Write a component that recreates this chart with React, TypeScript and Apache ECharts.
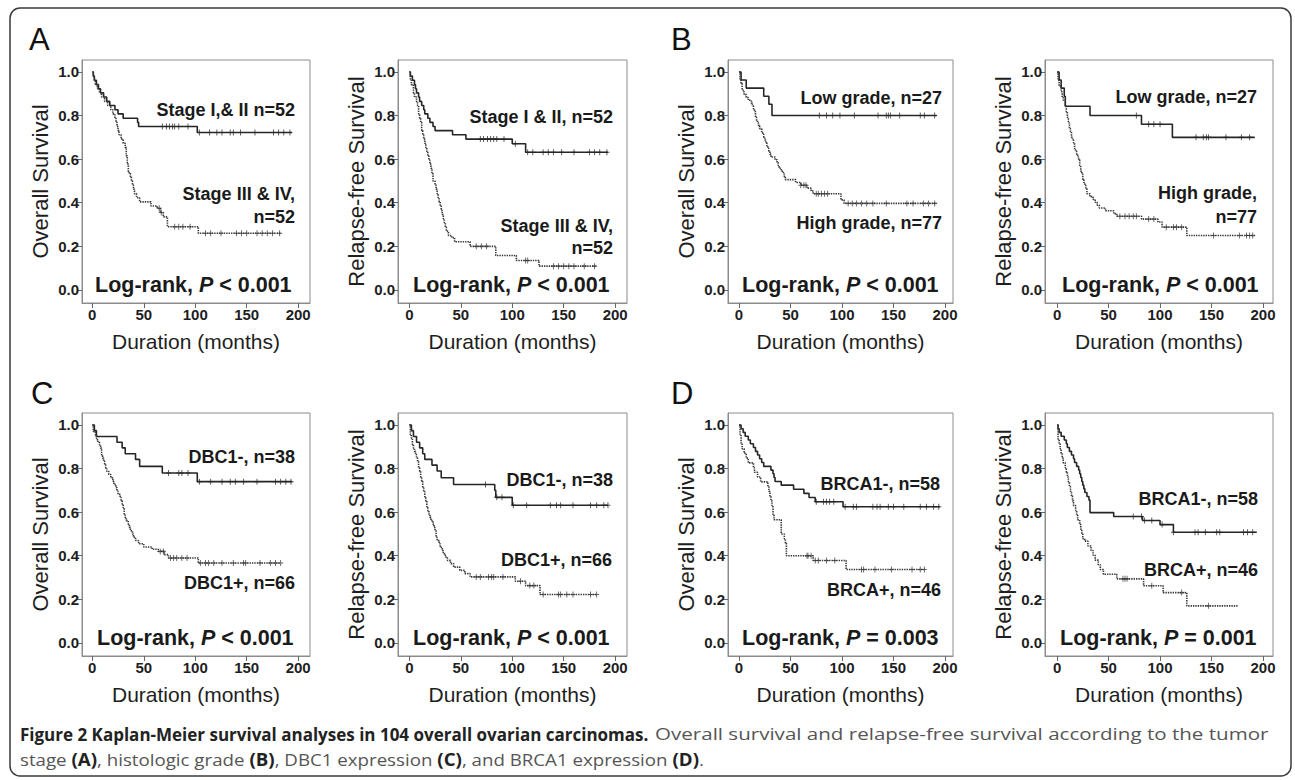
import React, { useEffect, useRef } from "react";
import * as echarts from "echarts";

// ---------- tick labels ----------
const X_TICKS = [0, 50, 100, 150, 200];
const Y_TICKS = [0, 0.2, 0.4, 0.6, 0.8, 1.0];

// ---------- Panel A: tumor stage ----------
const A_OS_STAGE12 = [[0,1],[1,0.981],[2,0.962],[4,0.942],[6,0.923],[8,0.904],[11,0.885],[14,0.865],[17,0.846],[22,0.827],[25,0.808],[30,0.788],[44,0.769],[45,0.75],[102,0.722],[194,0.722]];
const A_OS_STAGE12_CENS = [68,72,75,78,80,84,93,104,114,121,126,134,137,144,158,176,181,186,192];
const A_OS_STAGE34 = [[0,1],[1,0.981],[2,0.962],[3,0.942],[5,0.923],[7,0.904],[9,0.885],[12,0.865],[15,0.846],[18,0.827],[20,0.808],[22,0.788],[23,0.769],[24,0.75],[25,0.731],[26,0.712],[28,0.692],[30,0.673],[32,0.654],[33,0.615],[34,0.577],[35,0.538],[37,0.519],[38,0.5],[39,0.481],[40,0.462],[41,0.442],[43,0.423],[46,0.404],[57,0.385],[63,0.375],[66,0.355],[69,0.335],[73,0.29],[103,0.26],[183,0.26]];
const A_OS_STAGE34_CENS = [65,67,80,84,88,95,110,115,125,140,145,150,160,165,170,175,182];

const A_RFS_STAGE12 = [[0,1],[1,0.981],[3,0.962],[5,0.942],[6,0.923],[7,0.904],[9,0.885],[10,0.865],[12,0.846],[14,0.827],[15,0.808],[18,0.788],[20,0.769],[23,0.75],[25,0.731],[42,0.712],[55,0.692],[100,0.671],[113,0.632],[193,0.632]];
const A_RFS_STAGE12_CENS = [69,72,76,79,82,85,92,103,115,120,130,135,140,148,160,175,180,185,192];
const A_RFS_STAGE34 = [[0,1],[1,0.962],[2,0.942],[4,0.904],[5,0.885],[7,0.865],[8,0.846],[9,0.808],[10,0.788],[11,0.769],[12,0.731],[13,0.712],[14,0.692],[15,0.673],[16,0.654],[17,0.635],[18,0.615],[19,0.596],[20,0.577],[21,0.558],[22,0.538],[23,0.5],[25,0.481],[26,0.462],[27,0.442],[28,0.423],[29,0.404],[30,0.385],[31,0.365],[32,0.346],[33,0.327],[34,0.308],[35,0.288],[36,0.269],[38,0.25],[41,0.24],[44,0.221],[59,0.2],[84,0.158],[104,0.135],[126,0.109],[182,0.109]];
const A_RFS_STAGE34_CENS = [65,70,75,113,115,140,145,150,155,160,170,180];

// ---------- Panel B: histologic grade ----------
const B_OS_LOW = [[0,1],[2,0.963],[7,0.926],[24,0.889],[29,0.852],[32,0.8],[192,0.8]];
const B_OS_LOW_CENS = [78,85,91,98,112,135,143,145,147,156,176,180,190];
const B_OS_HIGH = [[0,1],[1,0.961],[2,0.948],[3,0.922],[4,0.909],[5,0.896],[7,0.883],[9,0.87],[12,0.857],[13,0.844],[14,0.831],[15,0.818],[16,0.792],[17,0.779],[18,0.766],[19,0.753],[20,0.74],[22,0.727],[23,0.714],[24,0.701],[25,0.688],[26,0.675],[27,0.662],[28,0.649],[29,0.636],[30,0.623],[31,0.61],[35,0.597],[37,0.584],[38,0.571],[39,0.558],[41,0.545],[43,0.532],[44,0.519],[45,0.506],[55,0.493],[60,0.48],[66,0.467],[70,0.454],[72,0.441],[99,0.413],[102,0.397],[192,0.397]];
const B_OS_HIGH_CENS = [60,63,65,75,77,80,83,86,106,110,114,119,124,130,143,163,169,179,184,190];

const B_RFS_LOW = [[0,1],[2,0.963],[4,0.926],[7,0.889],[8,0.843],[32,0.8],[82,0.76],[112,0.7],[192,0.7]];
const B_RFS_LOW_CENS = [77,89,94,100,135,142,145,147,164,179,187];
const B_RFS_HIGH = [[0,1],[1,0.961],[2,0.935],[4,0.909],[5,0.883],[6,0.87],[8,0.844],[9,0.818],[10,0.792],[11,0.766],[12,0.74],[13,0.727],[14,0.701],[15,0.688],[16,0.675],[17,0.649],[18,0.636],[19,0.623],[20,0.61],[21,0.597],[22,0.571],[23,0.545],[24,0.532],[25,0.506],[26,0.493],[27,0.48],[28,0.467],[29,0.441],[32,0.428],[35,0.415],[37,0.402],[39,0.389],[41,0.376],[47,0.363],[55,0.35],[58,0.338],[82,0.325],[98,0.312],[102,0.288],[126,0.25],[192,0.25]];
const B_RFS_HIGH_CENS = [61,66,70,74,77,89,94,106,113,116,121,152,177,184,187,190];

// ---------- Panel C: DBC1 expression ----------
const C_OS_NEG = [[0,1],[2,0.974],[4,0.947],[24,0.921],[29,0.895],[32,0.868],[42,0.842],[46,0.81],[68,0.78],[102,0.74],[194,0.74]];
const C_OS_NEG_CENS = [74,84,87,93,104,115,126,134,139,147,160,178,183,188,193];
const C_OS_POS = [[0,1],[1,0.97],[3,0.955],[4,0.939],[5,0.924],[7,0.909],[8,0.894],[9,0.864],[10,0.848],[11,0.833],[12,0.818],[13,0.803],[14,0.788],[16,0.773],[18,0.758],[20,0.742],[21,0.727],[23,0.712],[24,0.697],[25,0.682],[27,0.667],[28,0.652],[29,0.636],[30,0.621],[31,0.591],[32,0.576],[33,0.561],[35,0.545],[36,0.53],[37,0.515],[39,0.5],[40,0.485],[42,0.47],[45,0.455],[50,0.44],[58,0.43],[64,0.42],[70,0.405],[74,0.39],[103,0.367],[183,0.367]];
const C_OS_POS_CENS = [66,69,76,79,82,87,92,105,110,113,118,126,137,147,149,163,173,178,183];

const C_RFS_NEG = [[0,1],[2,0.974],[4,0.947],[7,0.921],[10,0.895],[13,0.868],[15,0.842],[22,0.816],[27,0.789],[31,0.758],[43,0.727],[83,0.7],[84,0.668],[100,0.632],[193,0.632]];
const C_RFS_NEG_CENS = [74,85,90,101,114,137,143,147,159,176,182,189,193];
const C_RFS_POS = [[0,1],[1,0.955],[2,0.939],[3,0.909],[4,0.894],[5,0.879],[6,0.864],[7,0.848],[8,0.833],[9,0.803],[10,0.788],[11,0.758],[12,0.742],[13,0.712],[14,0.697],[15,0.667],[16,0.652],[17,0.621],[18,0.606],[19,0.591],[20,0.576],[21,0.561],[23,0.545],[24,0.53],[25,0.515],[26,0.485],[27,0.47],[29,0.455],[30,0.439],[32,0.424],[33,0.409],[35,0.394],[37,0.379],[40,0.364],[43,0.348],[49,0.333],[54,0.318],[59,0.303],[103,0.283],[113,0.263],[127,0.222],[182,0.222]];
const C_RFS_POS_CENS = [65,69,77,80,82,91,108,117,121,130,145,147,153,159,176,182];

// ---------- Panel D: BRCA1 expression ----------
const D_OS_NEG = [[0,1],[2,0.983],[4,0.966],[6,0.948],[9,0.931],[11,0.914],[14,0.897],[16,0.879],[18,0.862],[20,0.845],[22,0.828],[24,0.81],[31,0.793],[33,0.776],[34,0.759],[35,0.741],[41,0.724],[53,0.705],[63,0.686],[68,0.667],[74,0.648],[101,0.625],[195,0.625]];
const D_OS_NEG_CENS = [75,82,85,88,92,103,111,114,130,134,137,145,150,160,176,182,189,194];
const D_OS_POS = [[0,1],[1,0.957],[2,0.913],[3,0.891],[5,0.87],[7,0.848],[9,0.826],[14,0.804],[15,0.783],[18,0.761],[21,0.739],[28,0.717],[29,0.696],[30,0.674],[31,0.652],[32,0.63],[33,0.587],[34,0.565],[41,0.5],[44,0.478],[45,0.457],[46,0.4],[72,0.378],[104,0.337],[180,0.337]];
const D_OS_POS_CENS = [66,67,70,74,77,85,93,119,121,132,148,168,176,180];

const D_RFS_NEG = [[0,1],[1,0.983],[2,0.966],[4,0.948],[7,0.931],[9,0.914],[10,0.897],[12,0.879],[14,0.862],[16,0.845],[17,0.828],[19,0.81],[21,0.793],[22,0.776],[23,0.759],[24,0.741],[25,0.724],[26,0.707],[27,0.69],[29,0.672],[31,0.655],[32,0.598],[55,0.58],[83,0.562],[100,0.543],[113,0.508],[194,0.508]];
const D_RFS_NEG_CENS = [74,82,85,92,102,113,134,137,144,155,158,181,185,190];
const D_RFS_POS = [[0,1],[1,0.935],[2,0.913],[3,0.891],[4,0.87],[5,0.848],[6,0.826],[8,0.804],[9,0.783],[10,0.761],[11,0.739],[12,0.717],[13,0.696],[14,0.674],[15,0.652],[16,0.63],[18,0.609],[19,0.587],[20,0.565],[22,0.543],[23,0.522],[24,0.5],[25,0.478],[27,0.467],[30,0.445],[33,0.424],[35,0.402],[37,0.38],[40,0.359],[42,0.337],[45,0.315],[58,0.294],[84,0.262],[103,0.231],[126,0.17],[176,0.17]];
const D_RFS_POS_CENS = [64,66,68,92,121,147];

// ---------- styles ----------
const FONT = "'Liberation Sans', Arial, Helvetica, sans-serif";
const CAP_FONT = "'Open Sans', 'Noto Sans', sans-serif";
const INK = "#1a1a1a";
const BOX = "#8c8c8c";
const SOLID = "#262626";
const DOT = "#383838";

type Pt = number[];
interface Curve { steps: Pt[]; cens: number[]; dotted: boolean }
interface Label { text: string; x: number; y: number; align: string }
interface Panel {
  left: number; top: number; width: number; height: number;
  xMin: number; xMax: number; yName: string;
  curves: Curve[]; labels: Label[]; logrank: { text: string; x: number; y: number };
}

function survivalAt(steps: Pt[], t: number): number {
  let s = steps[0][1];
  for (const p of steps) { if (p[0] <= t) s = p[1]; }
  return s;
}

const ROW1 = 60, ROW2 = 413, H = 243;
const OS = "Overall Survival", RFS = "Relapse-free Survival";
const LR_LT = "{a|Log-rank, }{i|P}{a| < 0.001}";

const PANELS: Panel[] = [
  { left: 82, top: ROW1, width: 228, height: H, xMin: -10, xMax: 211.5, yName: OS,
    curves: [{ steps: A_OS_STAGE12, cens: A_OS_STAGE12_CENS, dotted: false }, { steps: A_OS_STAGE34, cens: A_OS_STAGE34_CENS, dotted: true }],
    labels: [{ text: "Stage I,& II n=52", x: 295, y: 110, align: "right" }, { text: "Stage III & IV,", x: 295, y: 194, align: "right" }, { text: "n=52", x: 295, y: 217, align: "right" }],
    logrank: { text: LR_LT, x: 95, y: 285 } },
  { left: 398, top: ROW1, width: 229, height: H, xMin: -11, xMax: 211.5, yName: RFS,
    curves: [{ steps: A_RFS_STAGE12, cens: A_RFS_STAGE12_CENS, dotted: false }, { steps: A_RFS_STAGE34, cens: A_RFS_STAGE34_CENS, dotted: true }],
    labels: [{ text: "Stage I & II, n=52", x: 613, y: 117, align: "right" }, { text: "Stage III & IV,", x: 613, y: 226, align: "right" }, { text: "n=52", x: 613, y: 248, align: "right" }],
    logrank: { text: LR_LT, x: 413, y: 285 } },
  { left: 728, top: ROW1, width: 225, height: H, xMin: -10.7, xMax: 207.8, yName: OS,
    curves: [{ steps: B_OS_LOW, cens: B_OS_LOW_CENS, dotted: false }, { steps: B_OS_HIGH, cens: B_OS_HIGH_CENS, dotted: true }],
    labels: [{ text: "Low grade, n=27", x: 942, y: 98, align: "right" }, { text: "High grade, n=77", x: 942, y: 223, align: "right" }],
    logrank: { text: LR_LT, x: 742, y: 285 } },
  { left: 1045, top: ROW1, width: 228, height: H, xMin: -11.7, xMax: 209.7, yName: RFS,
    curves: [{ steps: B_RFS_LOW, cens: B_RFS_LOW_CENS, dotted: false }, { steps: B_RFS_HIGH, cens: B_RFS_HIGH_CENS, dotted: true }],
    labels: [{ text: "Low grade, n=27", x: 1257, y: 97, align: "right" }, { text: "High grade,", x: 1257, y: 193, align: "right" }, { text: "n=77", x: 1257, y: 217, align: "right" }],
    logrank: { text: LR_LT, x: 1062, y: 285 } },
  { left: 82, top: ROW2, width: 228, height: H, xMin: -10, xMax: 211.5, yName: OS,
    curves: [{ steps: C_OS_NEG, cens: C_OS_NEG_CENS, dotted: false }, { steps: C_OS_POS, cens: C_OS_POS_CENS, dotted: true }],
    labels: [{ text: "DBC1-, n=38", x: 295, y: 457, align: "right" }, { text: "DBC1+, n=66", x: 295, y: 583, align: "right" }],
    logrank: { text: LR_LT, x: 97, y: 638 } },
  { left: 398, top: ROW2, width: 229, height: H, xMin: -11, xMax: 211.5, yName: RFS,
    curves: [{ steps: C_RFS_NEG, cens: C_RFS_NEG_CENS, dotted: false }, { steps: C_RFS_POS, cens: C_RFS_POS_CENS, dotted: true }],
    labels: [{ text: "DBC1-, n=38", x: 613, y: 480, align: "right" }, { text: "DBC1+, n=66", x: 612, y: 560, align: "right" }],
    logrank: { text: LR_LT, x: 413, y: 638 } },
  { left: 728, top: ROW2, width: 225, height: H, xMin: -10.7, xMax: 207.8, yName: OS,
    curves: [{ steps: D_OS_NEG, cens: D_OS_NEG_CENS, dotted: false }, { steps: D_OS_POS, cens: D_OS_POS_CENS, dotted: true }],
    labels: [{ text: "BRCA1-, n=58", x: 940, y: 484, align: "right" }, { text: "BRCA+, n=46", x: 941, y: 590, align: "right" }],
    logrank: { text: "{a|Log-rank, }{i|P}{a| = 0.003}", x: 742, y: 638 } },
  { left: 1045, top: ROW2, width: 228, height: H, xMin: -11.7, xMax: 209.7, yName: RFS,
    curves: [{ steps: D_RFS_NEG, cens: D_RFS_NEG_CENS, dotted: false }, { steps: D_RFS_POS, cens: D_RFS_POS_CENS, dotted: true }],
    labels: [{ text: "BRCA1-, n=58", x: 1258, y: 499, align: "right" }, { text: "BRCA+, n=46", x: 1258, y: 570, align: "right" }],
    logrank: { text: "{a|Log-rank, }{i|P}{a| = 0.001}", x: 1060, y: 638 } },
];

const PANEL_LETTERS = [
  { text: "A", x: 29, y: 39 }, { text: "B", x: 671, y: 39 },
  { text: "C", x: 31, y: 393 }, { text: "D", x: 671, y: 393 },
];

const CAPTION_BOLD = "Figure 2 Kaplan-Meier survival analyses in 104 overall ovarian carcinomas.";
const CAPTION_L1 = "Overall survival and relapse-free survival according to the tumor";
const CAPTION_L2 = "{r|stage }{b|(A)}{r|, histologic grade }{b|(B)}{r|, DBC1 expression }{b|(C)}{r|, and BRCA1 expression }{b|(D)}{r|.}";

function txt(text: string, x: number, y: number, size: number, weight: string, align: string, extra: any = {}, elExtra: any = {}) {
  return {
    type: "text", x, y, silent: true, ...elExtra,
    style: {
      text, fontSize: size, fontWeight: weight, fontFamily: FONT, fill: INK,
      textAlign: align, align, textVerticalAlign: "middle", verticalAlign: "middle", ...extra,
    },
  };
}

function buildOption(): any {
  const grid: any[] = [], xAxis: any[] = [], yAxis: any[] = [], series: any[] = [], graphic: any[] = [];

  PANELS.forEach((p, i) => {
    grid.push({ left: p.left, top: p.top, width: p.width, height: p.height, show: true, borderColor: BOX, borderWidth: 1, containLabel: false });
    xAxis.push({
      type: "value", gridIndex: i, min: p.xMin, max: p.xMax,
      axisLine: { show: true, onZero: false, lineStyle: { color: BOX, width: 1 } },
      axisTick: { show: true, length: 5, customValues: X_TICKS, lineStyle: { color: "#666" } },
      axisLabel: { customValues: X_TICKS, margin: 4, fontSize: 15, fontWeight: "bold", color: "#1e1e1e", fontFamily: FONT, formatter: (v: number) => String(v) },
      splitLine: { show: false },
      name: "Duration (months)", nameLocation: "middle", nameGap: 28,
      nameTextStyle: { fontSize: 21, color: "#1e1e1e", fontFamily: FONT },
    });
    yAxis.push({
      type: "value", gridIndex: i, min: -0.06, max: 1.055,
      axisLine: { show: true, onZero: false, lineStyle: { color: BOX, width: 1 } },
      axisTick: { show: true, length: 5, customValues: Y_TICKS, lineStyle: { color: "#666" } },
      axisLabel: { customValues: Y_TICKS, margin: 3, fontSize: 15, fontWeight: "bold", color: "#1e1e1e", fontFamily: FONT, formatter: (v: number) => v.toFixed(1) },
      splitLine: { show: false },
      name: p.yName, nameLocation: "middle", nameRotate: 90, nameGap: 31,
      nameTextStyle: { fontSize: 22, color: "#1e1e1e", fontFamily: FONT },
    });
    p.curves.forEach((c) => {
      series.push({
        type: "line", xAxisIndex: i, yAxisIndex: i, data: c.steps, step: "end",
        symbol: "none", silent: true, z: 2,
        lineStyle: c.dotted ? { color: DOT, width: 1.6, type: [1.4, 1.0] } : { color: SOLID, width: 1.6, type: "solid" },
      });
      series.push({
        type: "scatter", xAxisIndex: i, yAxisIndex: i, silent: true, z: 3,
        data: c.cens.map((t) => [t, survivalAt(c.steps, t)]),
        symbol: "path://M5,0L5,10M0,5L10,5", symbolSize: [5, 6],
        itemStyle: { color: "rgba(0,0,0,0)", borderColor: c.dotted ? DOT : SOLID, borderWidth: 1 },
      });
    });
    p.labels.forEach((l) => graphic.push(txt(l.text, l.x, l.y, 18, "bold", l.align)));
    graphic.push(txt(p.logrank.text, p.logrank.x, p.logrank.y, 21.5, "bold", "left", {
      rich: {
        a: { fontSize: 21.5, fontWeight: "bold", fontFamily: FONT, fill: INK },
        i: { fontSize: 21.5, fontWeight: "bold", fontStyle: "italic", fontFamily: FONT, fill: INK },
      },
    }));
  });

  PANEL_LETTERS.forEach((l) => graphic.push(txt(l.text, l.x, l.y, 31, "normal", "left", { fill: "#111" })));

  graphic.push({
    type: "rect", silent: true, z: -1,
    shape: { x: 10, y: 8, width: 1281, height: 768, r: 10 },
    style: { fill: "none", stroke: "#3a3a3a", lineWidth: 1.5 },
  });

  // caption
  graphic.push(txt(CAPTION_BOLD, 20, 734, 17, "bold", "left", { fontFamily: CAP_FONT, fill: "#222" }));
  graphic.push(txt(CAPTION_L1, 655, 734, 17, "normal", "left", { fontFamily: CAP_FONT, fill: "#555" }, { scaleX: 1.21 }));
  const capRich = {
    b: { fontSize: 17, fontWeight: "bold", fontFamily: CAP_FONT, fill: "#222" },
    r: { fontSize: 17, fontWeight: "normal", fontFamily: CAP_FONT, fill: "#555" },
  };
  graphic.push(txt(CAPTION_L2, 20, 759, 17, "normal", "left", { rich: capRich }, { scaleX: 1.1 }));

  return { animation: false, backgroundColor: "#fff", textStyle: { fontFamily: FONT }, grid, xAxis, yAxis, series, graphic };
}

export default function App() {
  const ref = useRef<HTMLDivElement>(null);
  useEffect(() => {
    if (!ref.current) return;
    const chart = echarts.init(ref.current, null, { renderer: "svg" });
    chart.setOption(buildOption());
    return () => chart.dispose();
  }, []);
  return <div ref={ref} style={{ position: "absolute", left: 0, top: 0, width: 1295, height: 780 }} />;
}
